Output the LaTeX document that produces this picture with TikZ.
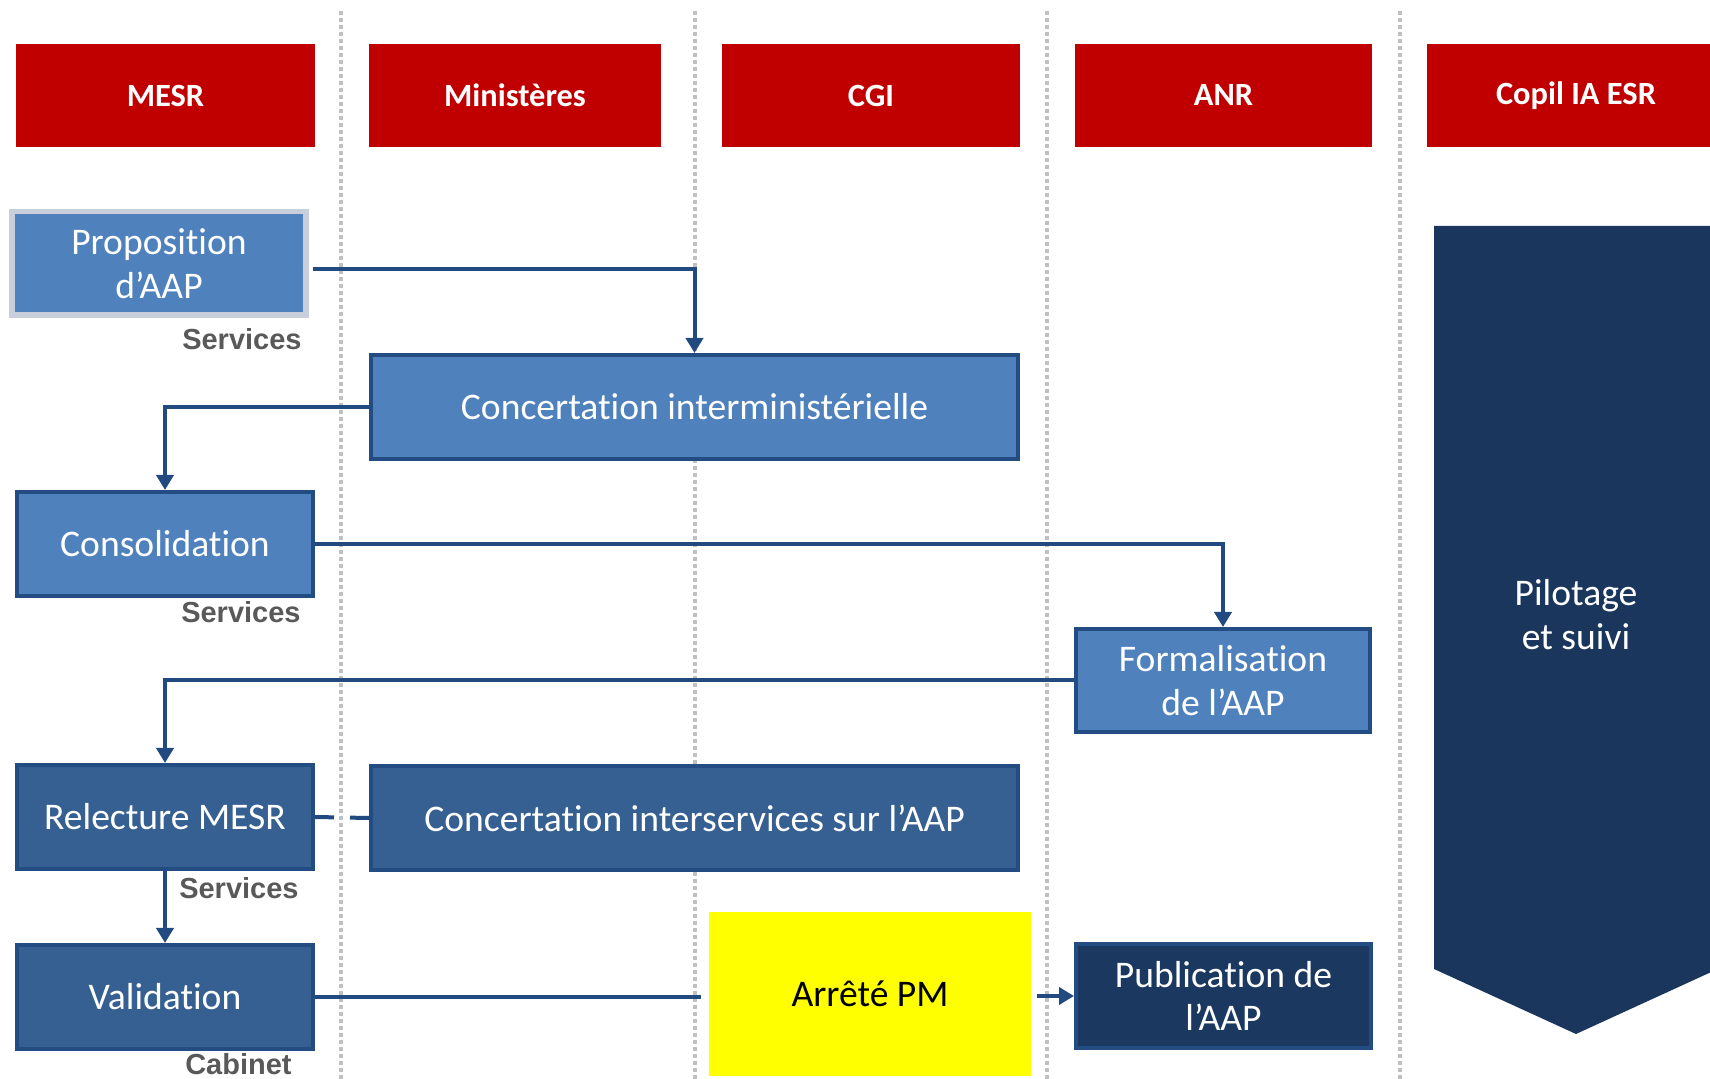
\documentclass[tikz,border=0pt]{standalone}
\usepackage{fontspec}
\setmainfont[RawFeature={-liga;-clig;-dlig;-calt}]{Carlito}
\newfontfamily\labfont{Liberation Sans}
\usetikzlibrary{arrows.meta}
\definecolor{hred}{HTML}{C00000}
\definecolor{lblue}{HTML}{4F81BD}
\definecolor{mblue}{HTML}{366092}
\definecolor{dblue}{HTML}{1B3860}
\definecolor{bord}{HTML}{234C82}
\definecolor{chevc}{HTML}{1A365D}
\definecolor{arrc}{HTML}{214A80}
\definecolor{grayb}{HTML}{C8CFDB}
\definecolor{dotc}{HTML}{C0C0C0}
\definecolor{labc}{HTML}{595959}
\definecolor{yel}{HTML}{FFFF00}
\tikzset{
  header/.style={fill=hred, text=white, minimum height=51.5pt, inner sep=0pt,
    font=\fontsize{16.2}{19}\selectfont\bfseries},
  boxbase/.style={text=white, inner sep=0pt, align=center, line width=2.2pt, draw=bord,
    font=\fontsize{18.8}{21.8}\selectfont},
  lbox/.style={boxbase, fill=lblue},
  mbox/.style={boxbase, fill=mblue},
  dbox/.style={boxbase, fill=dblue, draw=bord},
  smallw/.style={minimum width=147.8pt, minimum height=51.8pt},
  widew/.style={minimum width=323.3pt, minimum height=51.8pt},
  lane/.style={draw=dotc, line width=1.9pt, dash pattern=on 1.9pt off 1.6pt},
  conn/.style={draw=arrc, line width=2pt},
  arr/.style={conn, -{Triangle[width=8.5pt,length=7.5pt]}},
  lab/.style={text=labc, inner sep=0pt, anchor=east, font=\labfont\fontsize{14.5}{16}\selectfont\bfseries}
}
\begin{document}
\begin{tikzpicture}[x=0.5pt,y=-0.5pt]
\useasboundingbox (0,0) rectangle (1710,1079);
\clip (0,0) rectangle (1710,1079);

% lanes
\foreach \xx in {341,695,1047,1400} {
  \draw[lane] (\xx,11) -- (\xx,1079);
}

% headers
\node[header, minimum width=149.5pt] (hmesr) at (165.5,95.5) {\raisebox{-1pt}{MESR}};
\node[header, minimum width=146pt] (hmin) at (515,95.5) {\raisebox{-1pt}{Ministères}};
\node[header, minimum width=149pt] (hcgi) at (871,95.5) {\raisebox{-1pt}{CGI}};
\node[header, minimum width=148.5pt] (hanr) at (1223.5,95.5) {\raisebox{-1pt}{ANR}};
\node[header, minimum width=149pt] (hcopil) at (1576,95.5) {\raisebox{-1pt}{Copil IA ESR}};

% chevron
\fill[chevc] (1434,226) -- (1720,226) -- (1720,968) -- (1576,1034) -- (1434,969) -- cycle;
\node[text=white, align=center, font=\fontsize{18.8}{22}\selectfont] (pilot) at (1576,615) {Pilotage\\et suivi};

% boxes
\node[lbox, draw=grayb, line width=2.8pt, minimum width=147.2pt, minimum height=51.8pt] (prop) at (159,263.5) {Proposition\\d’AAP};
\node[lbox, widew] (conc1) at (694.5,407) {Concertation interministérielle};
\node[lbox, smallw] (consol) at (165,544) {Consolidation};
\node[lbox, minimum width=146.8pt, minimum height=51.3pt] (form) at (1223,680.5) {Formalisation\\de l’AAP};
\node[mbox, smallw] (relec) at (165,817) {Relecture MESR};
\node[mbox, widew] (conc2) at (694.5,818) {Concertation interservices sur l’AAP};
\node[mbox, smallw] (valid) at (165,997) {Validation};
\node[fill=yel, text=black, inner sep=0pt, minimum width=161pt, minimum height=82pt,
  font=\fontsize{18.8}{22}\selectfont] (arrete) at (870,994) {Arrêté PM};
\node[dbox, minimum width=147.3pt, minimum height=51.8pt] (pub) at (1223.5,996) {Publication de\\l’AAP};

% labels
\node[lab] (l1) at (302,339) {Services};
\node[lab] (l2) at (301,612) {Services};
\node[lab] (l3) at (299,888) {Services};
\node[lab] (l4) at (292,1064) {Cabinet};

% connectors
\draw[arr] (prop.east) ++(3.5,6) -| (conc1.north);
\draw[arr] (conc1.west) -| (consol.north);
\draw[arr] (consol.east) -| (form.north);
\draw[arr] (form.west) -| (relec.north);
\draw[arr] (relec.south) -- (valid.north);
\draw[conn, dash pattern=on 9.5pt off 8pt] (relec.east) -- (conc2.west);
\draw[conn, shorten >=4pt] (valid.east) -- (valid.east -| arrete.west);
\draw[arr, shorten <=3pt] (arrete.east |- pub.west) -- (pub.west);
\end{tikzpicture}
\end{document}
